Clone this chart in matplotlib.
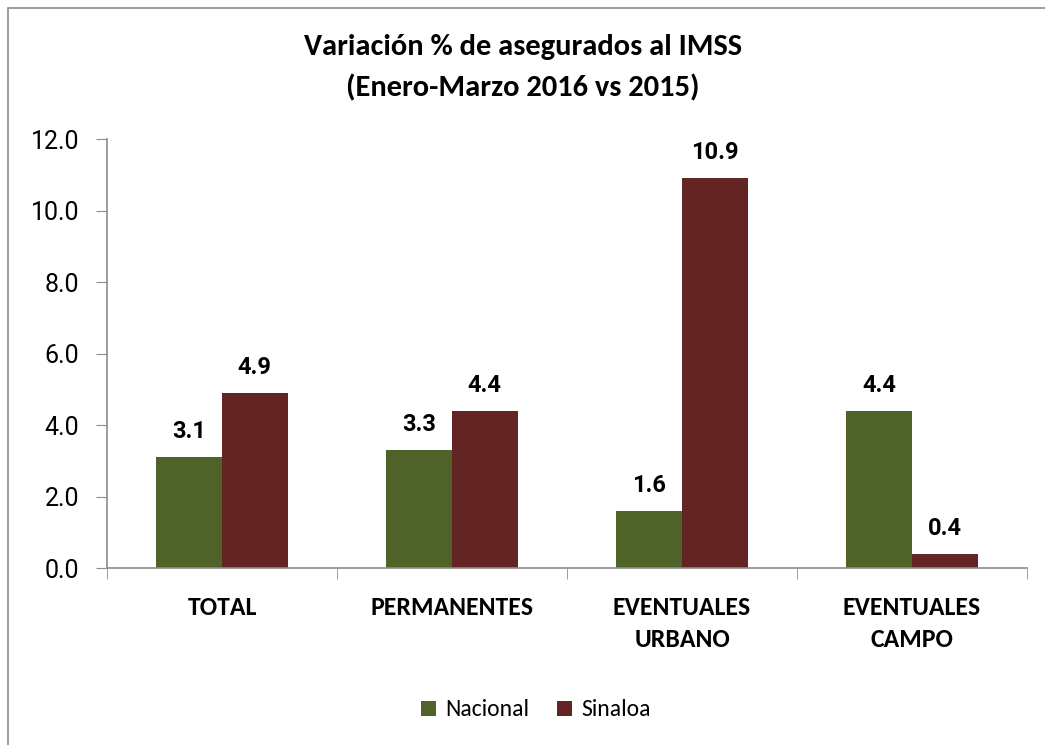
import numpy as np
import matplotlib
matplotlib.use('Agg')
import matplotlib.pyplot as plt
from matplotlib.patches import Rectangle

categories = ['TOTAL', 'PERMANENTES', 'EVENTUALES\nURBANO', 'EVENTUALES\nCAMPO']
nacional = [3.1, 3.3, 1.6, 4.4]
sinaloa = [4.9, 4.4, 10.9, 0.4]
series_names = ['Nacional', 'Sinaloa']
colors = ['#4F6228', '#632523']

# Calibri-like text; first installed family wins
narrow = ['Carlito', 'Liberation Sans Narrow', 'Asap Condensed', 'DejaVu Sans']
digits = ['Roboto', 'DejaVu Sans']

fig = plt.figure(figsize=(10.45, 7.45), dpi=100)
ax = fig.add_axes([107 / 1045, 1 - 568 / 745, 920 / 1045, 429 / 745])

# outer chart frame
fig.patches.append(Rectangle((8 / 1045, -0.05), 1.1, 1 - 8 / 745 + 0.05,
                             transform=fig.transFigure, fill=False,
                             edgecolor='#8c8c8c', linewidth=1.2))

x = np.arange(len(categories))
w = 0.285
b1 = ax.bar(x - w / 2, nacional, w, color=colors[0], label=series_names[0])
b2 = ax.bar(x + w / 2, sinaloa, w, color=colors[1], label=series_names[1])

for bars, vals in [(b1, nacional), (b2, sinaloa)]:
    for r, v in zip(bars, vals):
        ax.annotate(f'{v:.1f}', (r.get_x() + r.get_width() / 2, v),
                    xytext=(0, 10), textcoords='offset points',
                    ha='center', va='bottom', fontsize=17, fontweight=600,
                    family=digits)

ax.set_xlim(-0.5, 3.5)
ax.set_ylim(0, 12)
ticks = np.arange(0, 12.1, 2)
ax.set_yticks(ticks)
ax.set_yticklabels([f'{t:.1f}' for t in ticks], family=digits, fontsize=18)
ax.set_xticks(x)
ax.set_xticklabels(categories, family=narrow, fontsize=18.5, fontweight='bold',
                   linespacing=1.5)
ax.set_xticks(np.arange(-0.5, 3.6, 1), minor=True)
ax.tick_params(axis='x', which='major', length=0, pad=20)
ax.tick_params(axis='x', which='minor', length=8, color='#8c8c8c', direction='out')
ax.tick_params(axis='y', length=8, color='#8c8c8c', pad=12)

for s in ['top', 'right']:
    ax.spines[s].set_visible(False)
for s in ['left', 'bottom']:
    ax.spines[s].set_color('#8c8c8c')
    ax.spines[s].set_linewidth(1.2)

fig.text(0.5, 1 - 47 / 745, 'Variación % de asegurados al IMSS', ha='center', va='center',
         fontsize=22, fontweight='bold', family=narrow)
fig.text(0.5, 1 - 88 / 745, '(Enero-Marzo 2016 vs 2015)', ha='center', va='center',
         fontsize=22, fontweight='bold', family=narrow)

fig.legend(handles=[b1, b2], loc='center', bbox_to_anchor=(536 / 1045, 1 - 710 / 745),
           ncol=2, frameon=False, prop={'family': narrow, 'size': 17},
           handlelength=0.6, handleheight=0.6, handletextpad=0.4, columnspacing=1.2)

fig.savefig('out.png', dpi=100)
